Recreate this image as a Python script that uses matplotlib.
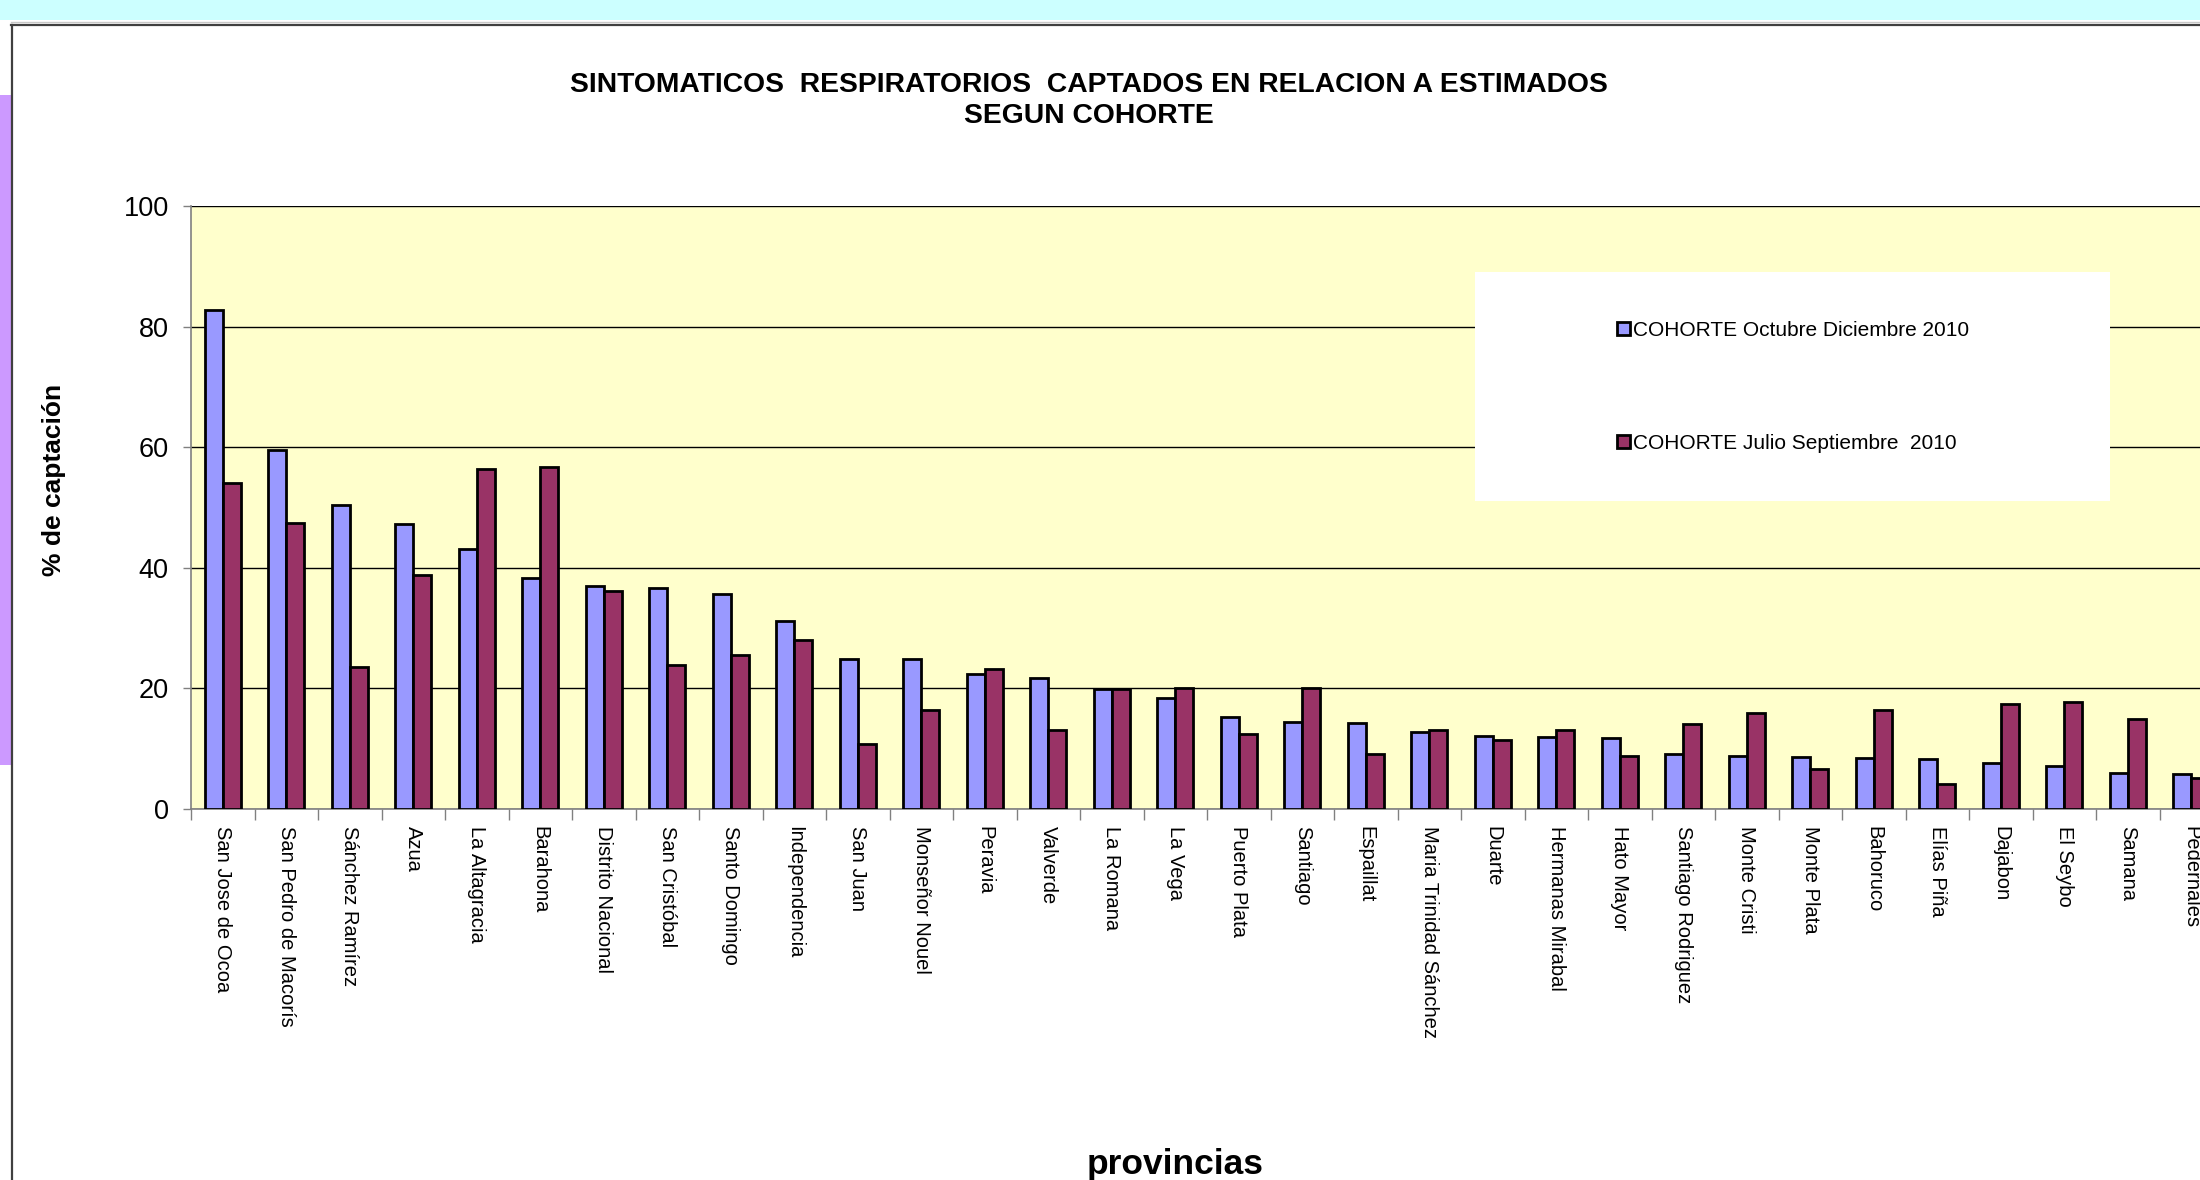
"""
Sintomáticos respiratorios captados en relación a estimados, según cohorte
"""

import matplotlib
matplotlib.use("Agg")
import matplotlib.pyplot as plt
from matplotlib.patches import Rectangle
import numpy as np

plt.rcParams['font.family'] = ['Liberation Sans', 'DejaVu Sans']

# datos
provincias = [
    "San Jose de Ocoa", "San Pedro de Macorís", "Sánchez Ramírez", "Azua",
    "La Altagracia", "Barahona", "Distrito Nacional", "San Cristóbal",
    "Santo Domingo", "Independencia", "San Juan", "Monseñor Nouel",
    "Peravia", "Valverde", "La Romana", "La Vega", "Puerto Plata",
    "Santiago", "Espaillat", "Maria Trinidad Sánchez", "Duarte",
    "Hermanas Mirabal", "Hato Mayor", "Santiago Rodriguez", "Monte Cristi",
    "Monte Plata", "Bahoruco", "Elías Piña", "Dajabon", "El Seybo",
    "Samana", "Pedernales",
]
oct_dic_2010 = [
    82.8, 59.6, 50.4, 47.2, 43.2, 38.3, 36.9, 36.7, 35.7, 31.2,
    24.8, 24.8, 22.4, 21.7, 19.9, 18.4, 15.2, 14.5, 14.3, 12.7,
    12.1, 11.9, 11.7, 9.1, 8.8, 8.6, 8.4, 8.3, 7.6, 7.1,
    5.9, 5.8,
]
jul_sep_2010 = [
    54.0, 47.5, 23.6, 38.8, 56.4, 56.7, 36.2, 23.9, 25.5, 28.1,
    10.7, 16.5, 23.2, 13.1, 19.9, 20.1, 12.4, 20.0, 9.2, 13.1,
    11.5, 13.1, 8.8, 14.1, 15.9, 6.6, 16.4, 4.1, 17.4, 17.8,
    15.0, 5.2,
]
series_labels = ["COHORTE Octubre Diciembre 2010", "COHORTE Julio Septiembre  2010"]
y_ticks = [0, 20, 40, 60, 80, 100]

W, H = 2200, 1180
fig = plt.figure(figsize=(W / 100, H / 100), dpi=100, facecolor='white')

# fondo de la diapositiva
fig.add_artist(Rectangle((0, 1 - 20 / H), 1, 20 / H, transform=fig.transFigure,
                         facecolor='#CCFFFF', edgecolor='none', zorder=0))
fig.add_artist(Rectangle((0, 1 - 765 / H), 11 / W, (765 - 95) / H, transform=fig.transFigure,
                         facecolor='#CC99FF', edgecolor='none', zorder=0))
fig.add_artist(plt.Line2D([11 / W, 1], [1 - 22 / H, 1 - 22 / H], transform=fig.transFigure,
                          color='#C8C8C8', lw=1.0, zorder=1))
fig.add_artist(plt.Line2D([11 / W, 1], [1 - 24.5 / H, 1 - 24.5 / H], transform=fig.transFigure,
                          color='#404040', lw=1.6, zorder=1))
fig.add_artist(plt.Line2D([11.5 / W, 11.5 / W], [0, 1 - 24.5 / H], transform=fig.transFigure,
                          color='#404040', lw=1.6, zorder=1))

# área de trazado (se sale por la derecha como en el original)
left, top, bottom = 191, 206, 809
cat_w = 63.5
n = len(provincias)
ax = fig.add_axes([left / W, 1 - bottom / H, n * cat_w / W, (bottom - top) / H])
ax.set_facecolor('#FFFFCC')

x = np.arange(n)
bw = 1 / 3.5
b1 = ax.bar(x - bw / 2, oct_dic_2010, bw, color='#9999FF', edgecolor='black',
            linewidth=2.0, label=series_labels[0], zorder=3)
b2 = ax.bar(x + bw / 2, jul_sep_2010, bw, color='#993366', edgecolor='black',
            linewidth=2.0, label=series_labels[1], zorder=3)

ax.set_xlim(-0.5, n - 0.5)
ax.set_ylim(0, 100)
ax.set_yticks(y_ticks)
ax.yaxis.grid(True, color='black', linewidth=1.0, zorder=1)
ax.set_axisbelow(True)
ax.tick_params(axis='y', direction='out', length=6, width=1, color='#808080',
               labelsize=19.5, pad=10)

ax.set_xticks(x)
ax.set_xticklabels(provincias, rotation=270, fontsize=14.5, va='top', ha='center')
ax.set_xticks(np.arange(n + 1) - 0.5, minor=True)
ax.tick_params(axis='x', which='major', length=0, pad=12)
ax.tick_params(axis='x', which='minor', direction='out', length=8, width=1, color='#808080')

for s in ['top', 'right']:
    ax.spines[s].set_visible(False)
for s in ['left', 'bottom']:
    ax.spines[s].set_color('#808080')
    ax.spines[s].set_linewidth(1.2)

# títulos
fig.text(1089 / W, 1 - 92 / H, "SINTOMATICOS  RESPIRATORIOS  CAPTADOS EN RELACION A ESTIMADOS",
         ha='center', va='baseline', fontsize=20.3, fontweight='bold')
fig.text(1089 / W, 1 - 123 / H, "SEGUN COHORTE",
         ha='center', va='baseline', fontsize=20.3, fontweight='bold')
fig.text(54 / W, 1 - 480 / H, "% de captación", rotation=90, ha='center', va='center',
         fontsize=19, fontweight='bold')
fig.text(1175 / W, 1 - 1174 / H, "provincias", ha='center', va='baseline',
         fontsize=25.5, fontweight='bold')

# leyenda
fig.add_artist(Rectangle((1475 / W, 1 - 501 / H), (2110 - 1475) / W, (501 - 272) / H,
                         transform=fig.transFigure, facecolor='white', edgecolor='none',
                         zorder=3))
fig.legend(handles=[b1, b2], loc='upper left', bbox_to_anchor=(1617 / W, 1 - 321 / H),
           bbox_transform=fig.transFigure, frameon=False, fontsize=15, borderpad=0,
           borderaxespad=0, handlelength=0.63, handleheight=0.63, handletextpad=0.15,
           labelspacing=4.5)

fig.savefig("out.png", dpi=100, facecolor='white')
